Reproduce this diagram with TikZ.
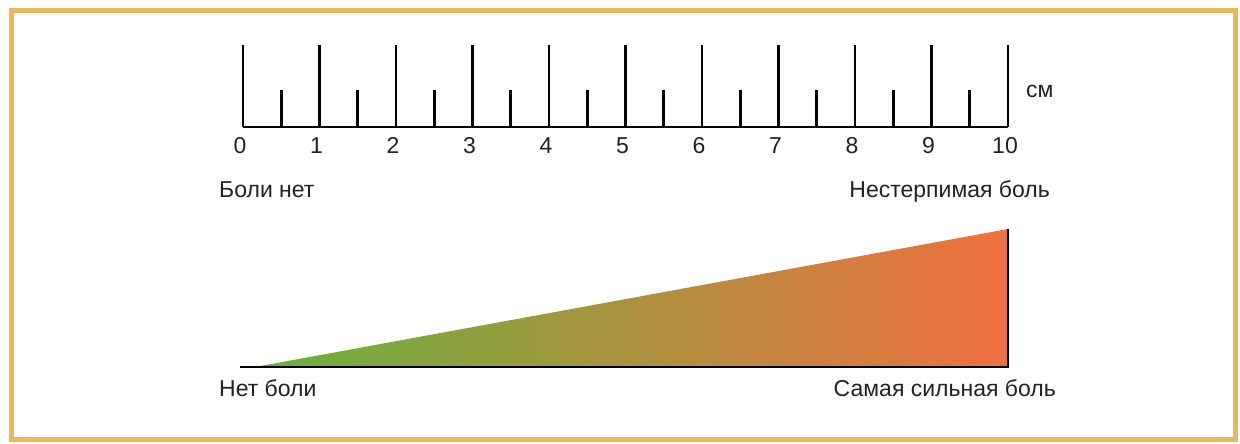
\documentclass[tikz,border=0pt]{standalone}
\usepackage{fontspec}
\setmainfont{Liberation Sans}
\definecolor{frame}{HTML}{E8B85A}
\definecolor{gstart}{HTML}{66B33C}
\definecolor{gmid}{HTML}{BDA242}
\definecolor{gend}{HTML}{F07040}
\definecolor{txt}{HTML}{222222}
\begin{document}
\begin{tikzpicture}[x=1pt,y=-1pt,
  lbl/.style={font=\fontsize{23}{26}\selectfont, text=txt, inner sep=0pt},
  tick/.style={line width=2.8pt, black},
  axis/.style={line width=2.8pt, black}]
\useasboundingbox (0,0) rectangle (1240,444);
\fill[white] (0,0) rectangle (1240,444);
\draw[frame, line width=5pt] (11,11) rectangle (1235,439);
% ruler
\coordinate (r0) at (243,127);
\coordinate (r10) at (1008,127);
\draw[axis] (r0) -- (r10);
\foreach \i in {0,...,10}{
  \draw[tick] ({243+76.5*\i},127) -- ({243+76.5*\i},45);
  \node[lbl, anchor=base] (n\i) at ({240+76.5*\i},153) {\i};
}
\foreach \i in {0,...,9}{
  \draw[tick] ({243+76.5*(\i+0.5)},127) -- ({243+76.5*(\i+0.5)},90);
}
\node[lbl, anchor=base west] (cm) at (1026,98) {см};
\node[lbl, anchor=base west] (none) at (219,197) {Боли нет};
\node[lbl, anchor=base east] (unb) at (1050,197) {Нестерпимая боль};
% wedge
\coordinate (a) at (255,367);
\coordinate (b) at (1008,229);
\coordinate (c) at (1008,367);
\coordinate (s) at (240,367);
\shade[left color=gstart, middle color=gmid, right color=gend] (a) -- (b) -- (c) -- cycle;
\draw[line width=2.5pt, black] (s) -- (c) -- (b);
\node[lbl, anchor=base west] (lo) at (219,396) {Нет боли};
\node[lbl, anchor=base east] (hi) at (1056,396) {Самая сильная боль};
\end{tikzpicture}
\end{document}
